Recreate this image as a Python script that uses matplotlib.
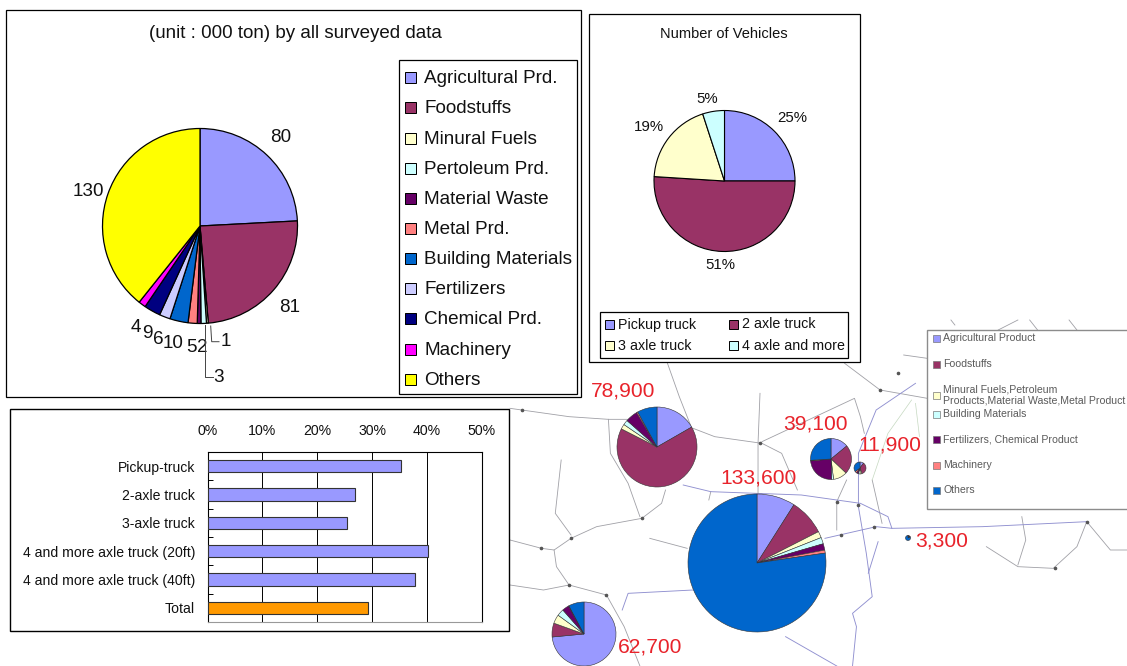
import matplotlib
matplotlib.use("Agg")
import matplotlib.pyplot as plt
from matplotlib.patches import Rectangle

plt.rcParams['font.family'] = ['Liberation Sans', 'DejaVu Sans']

W, H = 1127, 666

# commodity pie (000 ton)
commodities = ["Agricultural Prd.", "Foodstuffs", "Minural Fuels", "Pertoleum Prd.", "Material Waste",
               "Metal Prd.", "Building Materials", "Fertilizers", "Chemical Prd.", "Machinery", "Others"]
commodity_values = [80, 81, 1, 3, 2, 5, 10, 6, 9, 4, 130]
commodity_colors = ["#9999FF", "#993366", "#FFFFCC", "#CCFFFF", "#660066", "#FF8080",
                    "#0066CC", "#CCCCFF", "#000080", "#FF00FF", "#FFFF00"]

# vehicles pie
vehicle_types = ["Pickup truck", "2 axle truck", "3 axle truck", "4 axle and more"]
vehicle_share = [25, 51, 19, 5]
vehicle_colors = ["#9999FF", "#993366", "#FFFFCC", "#CCFFFF"]

# bar panel
bar_labels = ["Pickup-truck", "2-axle truck", "3-axle truck", "4 and more axle truck (20ft)",
              "4 and more axle truck (40ft)", "Total"]
bar_values = [35.3, 26.8, 25.5, 40.2, 37.8, 29.2]

# map pies, share of each group in %
map_groups = ["Agricultural Product", "Foodstuffs", "Minural Fuels,Petroleum\nProducts,Material Waste,Metal Product",
              "Building Materials", "Fertilizers, Chemical Product", "Machinery", "Others"]
map_colors = ["#9999FF", "#993366", "#FFFFCC", "#CCFFFF", "#660066", "#FF8080", "#0066CC"]
map_totals = ["78,900", "39,100", "133,600", "62,700", "11,900", "3,300"]
map_shares = [
    [16.7, 65.8, 2, 2, 5, 0.5, 8],
    [14, 23, 11, 1.5, 24, 0.5, 26],
    [9, 8.5, 1.5, 1.5, 1.5, 0.7, 77.3],
    [73.5, 7, 4.5, 3.5, 3.5, 0.2, 7.8],
    [10, 35, 5, 5, 5, 5, 35],
    [5, 5, 2, 2, 2, 2, 82],
]
map_pies_xyr = [(657, 447, 40), (831, 459, 20.5), (757, 563, 69), (584, 634, 32), (860, 468, 6), (908, 538, 2.5)]
map_label_xy = [(623, 391), (815, 424), (758, 478), (650, 647), (890, 445), (942, 541)]

grey_roads = [
    [(0, 265), (30, 270), (150, 290), (250, 298), (300, 298)],
    [(465, 325), (520, 350), (640, 370), (690, 400), (730, 510)],
    [(400, 130), (430, 230), (460, 320)],
    [(250, 298), (255, 400), (300, 490), (330, 590)],
    [(395, 510), (385, 550), (335, 595), (220, 620), (155, 655), (112, 690), (80, 685), (0, 660)],
    [(112, 690), (118, 740), (150, 795), (85, 810), (0, 795)],
    [(150, 795), (245, 825), (290, 920), (330, 1038)],
    [(130, 420), (115, 580), (155, 645)],
    [(635, 220), (630, 370), (630, 525)],
    [(640, 365), (875, 235), (890, 290), (900, 340)],
    [(355, 655), (450, 685)],
    [(1465, 605), (1440, 680), (1380, 745), (1290, 740), (1210, 680)],
    [(1300, 590), (1310, 660), (1290, 735)],
    [(1465, 605), (1525, 690), (1568, 690)],
    [(850, 130), (940, 210), (1060, 235)],
    [(1000, 105), (1060, 115)],
    [(855, 480), (830, 545), (830, 630)],
    [(1120, 0), (1130, 15)],
    [(1240, 30), (1290, 0)],
    [(1320, 0), (1340, 30)],
    [(1420, 0), (1440, 30)],
    [(920, 480), (945, 610)],
    [(510, 515), (505, 540)],
]
blue_roads = [
    [(440, 495), (510, 515), (740, 525), (890, 550), (960, 590), (970, 625), (1200, 620), (1465, 605)],
    [(465, 810), (300, 820), (285, 870)],
    [(800, 655), (930, 620), (970, 625)],
    [(1030, 190), (980, 230), (930, 270), (885, 400), (885, 560), (905, 700), (920, 830), (870, 880), (880, 920), (870, 1038)],
    [(700, 950), (830, 1038)],
    [(935, 665), (910, 760)],
]
green_roads = [
    [(1030, 250), (1040, 350)],
    [(1020, 240), (960, 340), (920, 480)],
]
road_nodes = [(30, 270), (80, 685), (155, 655), (150, 795), (245, 825), (335, 595), (635, 370), (830, 545),
              (885, 555), (940, 210), (985, 160), (1465, 605), (1385, 745), (840, 645), (925, 620)]

fig = plt.figure(figsize=(W / 100, H / 100), dpi=100, facecolor="white")

# full page axes in pixels, everything that is not a chart lives here
page = fig.add_axes([0, 0, 1, 1], zorder=0)
page.set_xlim(0, W)
page.set_ylim(H, 0)
page.axis("off")


def pixel_axes(x0, y0, x1, y1, zorder=5):
    return fig.add_axes([x0 / W, 1 - y1 / H, (x1 - x0) / W, (y1 - y0) / H], zorder=zorder)


def draw_pie(cx, cy, r, values, colors, lw=0.72, edge="black"):
    ax = pixel_axes(cx - r, cy - r, cx + r, cy + r)
    ax.pie(values, colors=colors, startangle=90, counterclock=False,
           wedgeprops={"edgecolor": edge, "linewidth": lw, "clip_on": False})
    ax.set_xlim(-1, 1)
    ax.set_ylim(-1, 1)
    return ax


def box(x0, y0, x1, y1, lw=0.9, edge="black", z=3):
    page.add_patch(Rectangle((x0, y0), x1 - x0, y1 - y0, facecolor="white", edgecolor=edge, linewidth=lw, zorder=z))


# --- map background ---
for roads, col, lw in [(grey_roads, "#a0a0a6", 0.6), (blue_roads, "#9090d0", 0.65), (green_roads, "#c5d8c0", 0.5)]:
    for road in roads:
        page.plot([510 + p[0] / 2.54 for p in road], [320 + p[1] / 3 for p in road], color=col, lw=lw, zorder=1)
page.plot([510 + p[0] / 2.54 for p in road_nodes], [320 + p[1] / 3 for p in road_nodes],
          ls="none", marker="o", ms=1.6, color="#555555", zorder=1)

for (cx, cy, r), shares in zip(map_pies_xyr, map_shares):
    draw_pie(cx, cy, r, shares, map_colors, lw=0.4, edge="#333333")

for (x, y), txt in zip(map_label_xy, map_totals):
    fig.text(x / W, 1 - y / H, txt, color="#E8232B", fontsize=15.1, ha="center", va="center", zorder=6)

# map legend
box(927, 330, 1132, 509, lw=1.0, edge="#8c8c8c", z=2)
map_legend_y = [338, 364, 395, 414, 439, 465, 490]
for name, col, y in zip(map_groups, map_colors, map_legend_y):
    page.add_patch(Rectangle((933, y - 3.5), 7, 7, facecolor=col, edgecolor="#777777", linewidth=0.5, zorder=3))
    page.text(943, y, name, fontsize=7.6, color="#5a5a5a", va="center", ha="left", zorder=3, linespacing=1.2)

# --- left panel ---
box(6, 10, 581, 397)
page.text(295, 33, "(unit : 000 ton) by all surveyed data", fontsize=13.5, color="#111111", ha="center", va="center", zorder=4)
box(399, 60, 577, 394, z=4)
legend_y = [77, 107, 138, 168, 198, 228, 258, 288, 318, 349, 379]
for name, col, y in zip(commodities, commodity_colors, legend_y):
    page.add_patch(Rectangle((405, y - 5.5), 11, 11, facecolor=col, edgecolor="black", linewidth=0.72, zorder=5))
    page.text(424, y + 6, name, fontsize=13.6, color="#111111", va="baseline", ha="left", zorder=5)

draw_pie(200, 226, 97.5, commodity_values, commodity_colors, lw=0.9)
pie_label_xy = [(281, 138), (290, 307), (226, 342), (219, 377), (202.5, 347), (191.5, 347),
                (173, 343), (158, 339), (147, 334), (136, 327), (88, 191)]
for (x, y), v in zip(pie_label_xy, commodity_values):
    page.text(x, y, str(v), fontsize=13.6, color="#111111", ha="center", va="center", zorder=4)
page.plot([210.7, 211.7, 219], [326, 341.7, 341.7], color="#444444", lw=0.7, zorder=4)
page.plot([205.3, 205.3, 212.7], [325, 376.7, 376.7], color="#444444", lw=0.7, zorder=4)

# --- vehicles panel ---
box(589, 14, 860, 362)
page.text(724, 34, "Number of Vehicles", fontsize=10.5, color="#111111", ha="center", va="center", zorder=4)
draw_pie(724.5, 181, 70.5, vehicle_share, vehicle_colors, lw=0.8)
share_label_xy = [(792, 118), (720, 265), (649, 127), (707, 99)]
for (x, y), v in zip(share_label_xy, vehicle_share):
    page.text(x, y, f"{v}%", fontsize=10.8, color="#111111", ha="center", va="center", zorder=4)
box(600, 312, 848, 358, z=4)
veh_legend_xy = [(605, 324), (729, 324), (605, 345), (729, 345)]
for name, col, (x, y) in zip(vehicle_types, vehicle_colors, veh_legend_xy):
    page.add_patch(Rectangle((x, y - 4.5), 9, 9, facecolor=col, edgecolor="black", linewidth=0.7, zorder=5))
    page.text(x + 13, y + 4.5, name, fontsize=10.3, color="#111111", va="baseline", ha="left", zorder=5)

# --- bar panel ---
box(9.5, 409, 509, 631, lw=1.0)
ax = pixel_axes(207.5, 452, 482, 622)
ys = list(range(len(bar_values)))
bar_colors = ["#9999FF"] * (len(bar_values) - 1) + ["#FF9900"]
ax.barh(ys, bar_values, height=0.43, color=bar_colors, edgecolor="#333333", linewidth=0.8, zorder=3)
ax.set_xlim(0, 50)
ax.set_ylim(5.5, -0.5)
ax.xaxis.tick_top()
ax.set_xticks(range(0, 51, 10))
ax.set_xticklabels([f"{v}%" for v in range(0, 51, 10)], fontsize=10.2, color="#111111")
ax.tick_params(axis="x", length=0, pad=10)
ax.grid(axis="x", color="black", lw=0.7, zorder=1)
ax.set_yticks([i + 0.5 for i in ys])
ax.set_yticklabels([])
ax.tick_params(axis="y", which="major", direction="in", length=3.6, width=0.7)
ax.set_yticks(ys, minor=True)
ax.set_yticklabels(bar_labels, minor=True, fontsize=10.1, color="#111111")
ax.tick_params(axis="y", which="minor", length=0, pad=9)
for side in ax.spines.values():
    side.set_linewidth(0.8)
ax.spines["bottom"].set_color("#999999")

fig.savefig("out.png", dpi=100)
